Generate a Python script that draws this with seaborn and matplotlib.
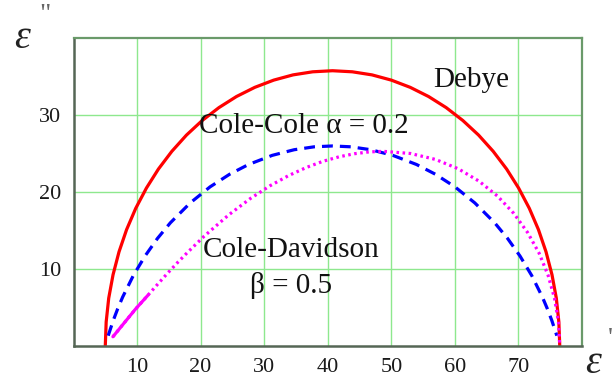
import matplotlib
matplotlib.use("Agg")
import matplotlib.pyplot as plt
import seaborn as sns
import pandas as pd

# Points (ε', ε'')
debye_x = [5.0, 5.14, 5.54, 6.22, 7.16, 8.35, 9.79, 11.47, 13.36, 15.47, 17.77, 20.24, 22.88,
           25.64, 28.52, 31.50, 34.54, 37.63, 40.75, 43.87, 46.96, 50.00, 52.98, 55.86,
           58.63, 61.26, 63.73, 66.03, 68.14, 70.03, 71.71, 73.15, 74.34, 75.28, 75.96,
           76.36, 76.5]
debye_y = [0.0, 3.12, 6.21, 9.25, 12.23, 15.11, 17.88, 20.51, 22.98, 25.28, 27.39, 29.28, 30.96,
           32.40, 33.59, 34.53, 35.21, 35.61, 35.75, 35.61, 35.21, 34.53, 33.59, 32.40,
           30.96, 29.28, 27.39, 25.28, 22.98, 20.51, 17.88, 15.11, 12.23, 9.25, 6.21,
           3.12, 0.0]

colecole_x = [5.46, 6.24, 6.96, 7.73, 9.41, 11.26, 13.21, 15.24, 18.36, 21.49, 24.57, 27.53,
              31.27, 34.72, 37.88, 40.75, 43.62, 46.78, 50.23, 53.97, 56.93, 60.01, 63.14,
              66.26, 68.29, 70.24, 72.09, 73.77, 74.54, 75.26, 76.04]
colecole_y = [1.34, 3.29, 4.85, 6.35, 9.15, 11.69, 13.97, 16.00, 18.58, 20.67, 22.31, 23.57,
              24.76, 25.49, 25.87, 25.98, 25.87, 25.49, 24.76, 23.57, 22.31, 20.67, 18.58,
              16.00, 13.97, 11.69, 9.15, 6.35, 4.85, 3.29, 1.34]

coledav_x = [6.2, 9.70, 11.74, 13.29, 14.61, 16.34, 17.87, 20.56, 24.42, 27.82, 30.94, 33.86,
             36.62, 39.25, 41.78, 44.20, 46.54, 48.78, 53.03, 56.95, 60.55, 63.81, 66.72,
             69.27, 71.45, 73.26, 74.67, 75.68, 76.30, 76.5]
coledav_y = [1.2, 4.74, 6.62, 8.07, 9.28, 10.81, 12.10, 14.26, 17.03, 19.15, 20.82, 22.14,
             23.18, 23.99, 24.57, 24.97, 25.21, 25.28, 25.00, 24.23, 23.01, 21.40, 19.46,
             17.22, 14.73, 12.04, 9.17, 6.19, 3.11, 0.0]
coledav_solid_n = 3  # first points drawn solid (dense region)

x_ticks = [10, 20, 30, 40, 50, 60, 70]
y_ticks = [10, 20, 30]

labels = {"debye": "Debye", "cc": "Cole-Cole α = 0.2", "cd1": "Cole-Davidson", "cd2": "β = 0.5"}

sns.set_style("white")
plt.rcParams["font.family"] = ["Liberation Serif", "DejaVu Serif"]

fig = plt.figure(figsize=(6.14, 3.87), dpi=100)
ax = fig.add_axes([73.5 / 614, 1 - 346 / 387, (582 - 73.5) / 614, (346 - 38) / 387])

df_d = pd.DataFrame({"x": debye_x, "y": debye_y})
df_c = pd.DataFrame({"x": colecole_x, "y": colecole_y})
df_v = pd.DataFrame({"x": coledav_x, "y": coledav_y})
df_vs = df_v.iloc[:coledav_solid_n]

ax.set_xlim(0, 80)
ax.set_ylim(0, 40)
ax.set_xticks(x_ticks)
ax.set_yticks(y_ticks)
ax.grid(True, color="#8ee88e", linewidth=1.0)
ax.set_axisbelow(True)

sns.lineplot(data=df_d, x="x", y="y", sort=False, ax=ax, color="#ff0000", linewidth=2.3,
             solid_capstyle="round", solid_joinstyle="round")
sns.lineplot(data=df_c, x="x", y="y", sort=False, ax=ax, color="#0000ff", linewidth=2.3)
ax.lines[-1].set_dashes((3.4, 2.2))
sns.lineplot(data=df_v, x="x", y="y", sort=False, ax=ax, color="#ff00ff", linewidth=2.3)
ax.lines[-1].set_dashes((0.8, 1.1))
sns.lineplot(data=df_vs, x="x", y="y", sort=False, ax=ax, color="#ff00ff", linewidth=2.3,
             solid_capstyle="round")

ax.set_xlabel("")
ax.set_ylabel("")
ax.tick_params(axis="both", length=0, labelsize=16, colors="#1a1a1a")
ax.tick_params(axis="x", pad=9)
ax.tick_params(axis="y", pad=9)

for s in ["left", "bottom"]:
    ax.spines[s].set_color("#556655")
    ax.spines[s].set_linewidth(1.8)
for s in ["top", "right"]:
    ax.spines[s].set_color("#6a9a6a")
    ax.spines[s].set_linewidth(1.6)

fs = 21
ax.text(56.6, 33.6, labels["debye"], fontsize=fs, ha="left", va="baseline", color="#111111")
ax.text(19.8, 27.7, labels["cc"], fontsize=fs, ha="left", va="baseline", color="#111111")
ax.text(20.3, 11.5, labels["cd1"], fontsize=fs, ha="left", va="baseline", color="#111111")
ax.text(27.7, 6.9, labels["cd2"], fontsize=fs, ha="left", va="baseline", color="#111111")

fig.text(14 / 614, 1 - 48 / 387, "ε", fontsize=29, style="italic", ha="left", va="baseline",
         color="#222222")
fig.text(39 / 614, 1 - 22 / 387, '"', fontsize=20, ha="left", va="baseline", color="#666666")
fig.text(585 / 614, 1 - 373 / 387, "ε", fontsize=29, style="italic", ha="left", va="baseline",
         color="#222222")
fig.text(608 / 614, 1 - 346 / 387, "'", fontsize=20, ha="left", va="baseline", color="#666666")

fig.savefig("out.png", dpi=100)
